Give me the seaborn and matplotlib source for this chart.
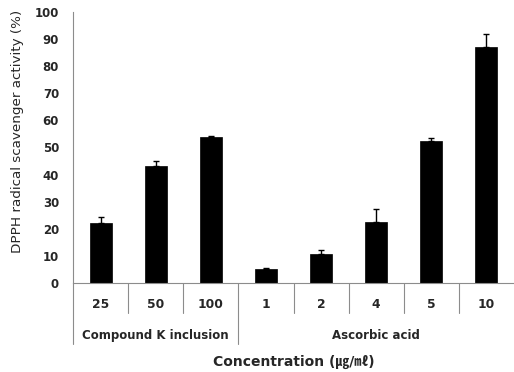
import matplotlib
matplotlib.use("Agg")
import matplotlib.pyplot as plt
import matplotlib.transforms as mtransforms
import seaborn as sns
import pandas as pd

# ---- data ----
tick_labels = ["25", "50", "100", "1", "2", "4", "5", "10"]
groups = ["Compound K inclusion"] * 3 + ["Ascorbic acid"] * 5
values = [22.0, 43.0, 53.8, 5.3, 10.8, 22.6, 52.3, 87.0]
errors = [2.5, 2.1, 0.4, 0.3, 1.5, 4.8, 1.1, 4.8]
group_names = ["Compound K inclusion", "Ascorbic acid"]

sns.set_theme(style="white")
plt.rcParams["font.family"] = ["DejaVu Sans", "Noto Sans CJK KR"]

df = pd.DataFrame({"cat": [f"{g}|{t}" for g, t in zip(groups, tick_labels)],
                   "value": values})

fig = plt.figure(figsize=(5.14, 3.72), dpi=100)
ax = fig.add_axes([73 / 514, 1 - 283 / 372, (514 - 73) / 514, (283 - 12) / 372])

sns.barplot(data=df, x="cat", y="value", color="black", width=0.4,
            saturation=1, errorbar=None, ax=ax, edgecolor="black", linewidth=0.5)

xs = [p.get_x() + p.get_width() / 2 for p in ax.patches]
ax.errorbar(xs, values, yerr=[[0] * len(errors), errors], fmt="none",
            ecolor="black", elinewidth=1.0, capsize=2.2, capthick=1.0, zorder=3)

gray = "#8c8c8c"
ax.set_ylim(0, 100)
ax.set_xlim(-0.5, len(values) - 0.5)
ax.set_yticks(range(0, 101, 10))
ax.tick_params(axis="y", length=4, width=0.8, color=gray, pad=6,
               labelsize=8.5)
for lab in ax.get_yticklabels():
    lab.set_fontweight("bold")
ax.set_xticks(range(len(tick_labels)))
ax.set_xticklabels(tick_labels, fontsize=8.8, fontweight="bold")
ax.tick_params(axis="x", length=0, pad=10.5)

for side in ["top", "right"]:
    ax.spines[side].set_visible(False)
for side in ["left", "bottom"]:
    ax.spines[side].set_color(gray)
    ax.spines[side].set_linewidth(0.8)

ax.set_xlabel("")
ax.set_ylabel("DPPH radical scavenger activity (%)", fontsize=9.7)
ax.yaxis.set_label_coords(-0.11, 0.561)

trans = mtransforms.blended_transform_factory(ax.transData, ax.transAxes)
group_bounds = [-0.5, 2.5]
for i in range(len(values)):
    x = i - 0.5
    y_end = -0.225 if x in group_bounds else -0.111
    ax.plot([x, x], [0, y_end], color=gray, lw=0.8, transform=trans, clip_on=False)

ax.text(1, -0.192, group_names[0], transform=trans, ha="center", va="center",
        fontsize=8.5, fontweight="bold")
ax.text(5, -0.192, group_names[1], transform=trans, ha="center", va="center",
        fontsize=8.5, fontweight="bold")

ax.text(3.5, -0.2915, "Concentration (㎍/㎖)", transform=trans,
        ha="center", va="center", fontsize=10, fontweight="bold")

fig.savefig("out.png", dpi=100)
